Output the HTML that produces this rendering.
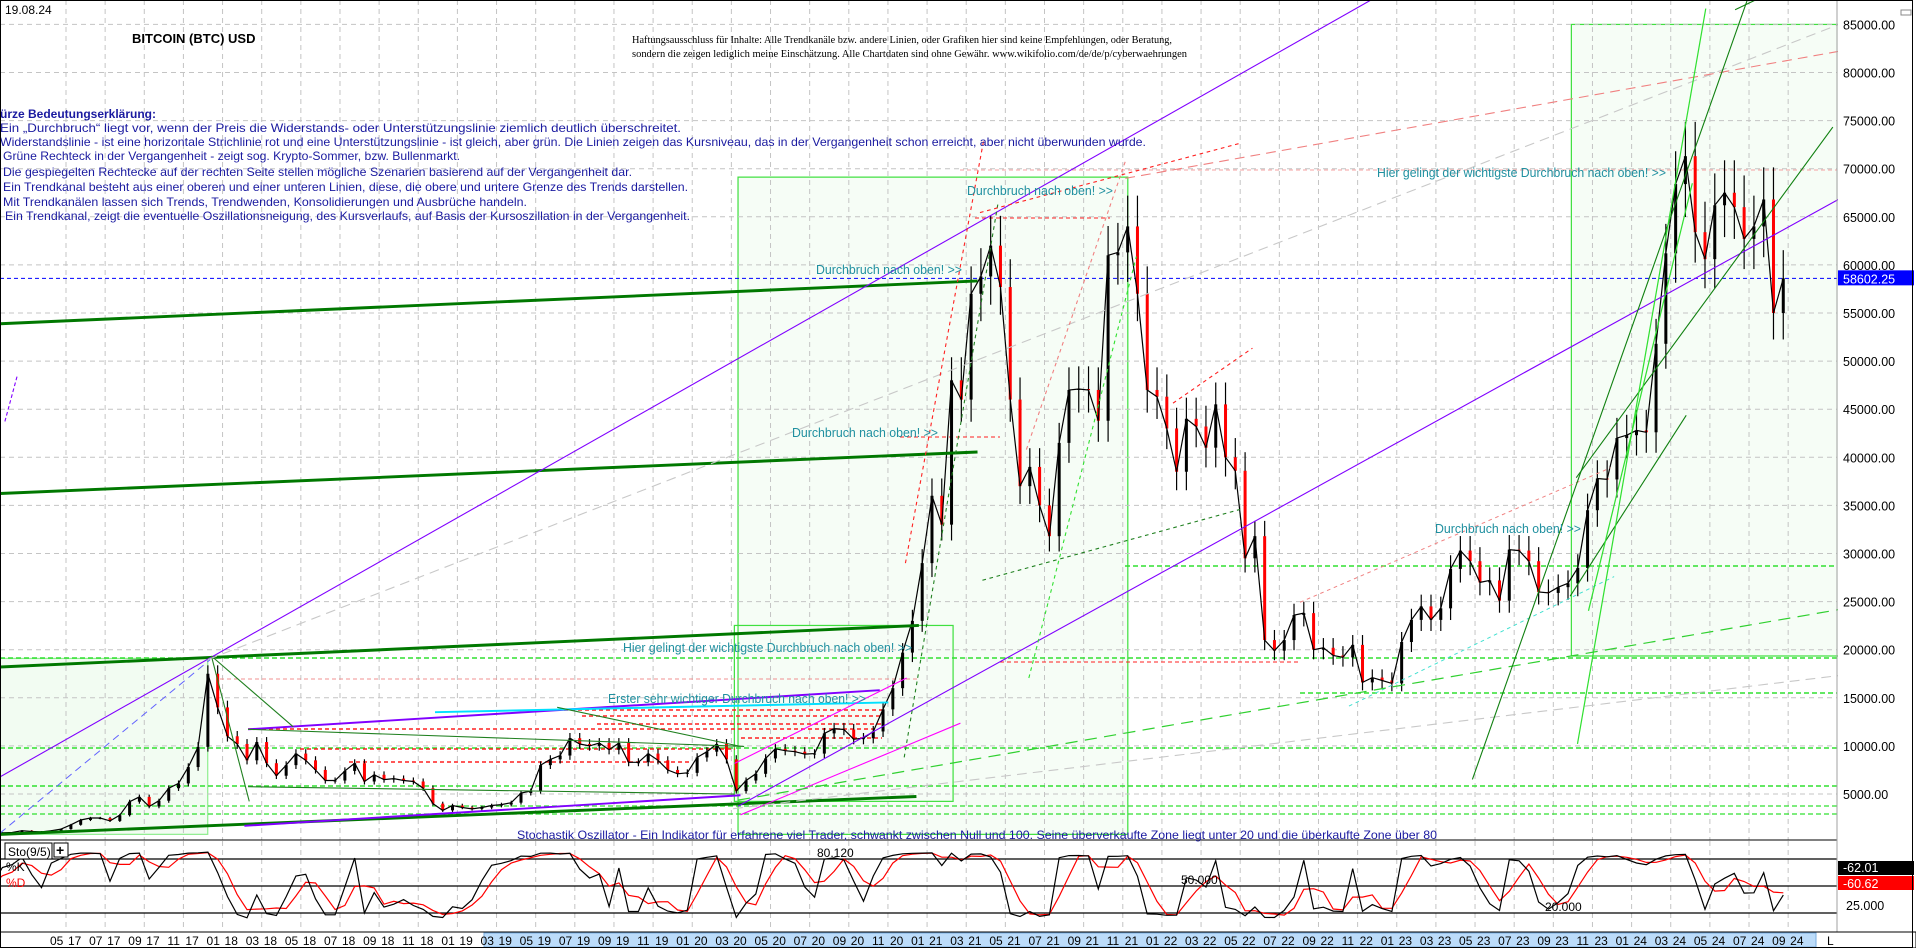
<!DOCTYPE html>
<html><head><meta charset="utf-8"><style>
html,body{margin:0;padding:0;background:#fff;}
svg{display:block;font-family:"Liberation Sans",sans-serif;}
</style></head><body>
<svg id="chart" width="1916" height="948" viewBox="0 0 1916 948" xmlns="http://www.w3.org/2000/svg">
<rect x="0" y="0" width="1916" height="948" fill="#fff"/>
<g id="zones" transform="scale(1.2219,1.2216)" fill="none">
  <rect x="0" y="539" width="170" height="144" fill="#f2fcf2" stroke="#90ee90" stroke-width="1"/>
  <rect x="604" y="145" width="319" height="538" fill="#f6fdf6" stroke="#40e040" stroke-width="1"/>
  <rect x="1286" y="20" width="219" height="517" fill="#f6fdf6" stroke="#40e040" stroke-width="1"/>
</g>
<g id="grid"></g>
<g id="ovp" transform="scale(1.2219,1.2216)" fill="none">
  <rect x="601" y="512" width="179" height="144" stroke="#40e040" stroke-width="1"/>
</g>
<g id="ovf" fill="none"></g>
<g id="candles"></g>
<g id="ovp2" transform="scale(1.2219,1.2216)" fill="none">
  <line x1="0" y1="546" x2="752" y2="512" stroke="#007800" stroke-width="2.4"/>
  <line x1="0" y1="265" x2="800" y2="230" stroke="#007800" stroke-width="2.4"/>
  <line x1="0" y1="404" x2="800" y2="370" stroke="#007800" stroke-width="2.4"/>
  <line x1="0" y1="683" x2="750" y2="652" stroke="#007800" stroke-width="2.4"/>
  <line x1="0" y1="636" x2="1122" y2="0" stroke="#8000ff" stroke-width="0.9"/>
  <line x1="604" y1="660" x2="1505" y2="163" stroke="#8000ff" stroke-width="0.9"/>
  <line x1="200" y1="676" x2="606" y2="651" stroke="#8000ff" stroke-width="1.6"/>
  <line x1="203" y1="597" x2="720" y2="565" stroke="#8000ff" stroke-width="1.6"/>
  <line x1="4" y1="345" x2="14" y2="308" stroke="#8000ff" stroke-width="0.9" stroke-dasharray="3,2"/>
  <line x1="356" y1="583" x2="727" y2="575" stroke="#00e0ff" stroke-width="1.6"/>
  <line x1="601" y1="625" x2="742" y2="555" stroke="#ff00ff" stroke-width="0.9"/>
  <line x1="606" y1="667" x2="786" y2="592" stroke="#ff00ff" stroke-width="0.9"/>
  <line x1="173" y1="537" x2="204" y2="656" stroke="#208020" stroke-width="0.9"/>
  <line x1="203" y1="597" x2="609" y2="611" stroke="#208020" stroke-width="0.9"/>
  <line x1="203" y1="644" x2="601" y2="650" stroke="#208020" stroke-width="0.9"/>
  <line x1="456" y1="579" x2="606" y2="611" stroke="#208020" stroke-width="0.9"/>
  <line x1="173" y1="537" x2="240" y2="595" stroke="#208020" stroke-width="0.9"/>
  <line x1="0" y1="682" x2="172" y2="540" stroke="#6060ff" stroke-width="0.8" stroke-dasharray="6,4"/>
  <line x1="170" y1="540" x2="1505" y2="20" stroke="#c8c8c8" stroke-width="0.9" stroke-dasharray="8,5"/>
  <line x1="600" y1="662" x2="1505" y2="553" stroke="#c8c8c8" stroke-width="0.9" stroke-dasharray="8,5"/>
  <line x1="921" y1="146" x2="1505" y2="42" stroke="#f08080" stroke-width="0.9" stroke-dasharray="8,5"/>
  <line x1="1064" y1="493" x2="1318" y2="383" stroke="#f08080" stroke-width="0.8" stroke-dasharray="3,3"/>
  <line x1="1104" y1="578" x2="1321" y2="472" stroke="#40e0d0" stroke-width="0.8" stroke-dasharray="3,3"/>
  <line x1="604" y1="655" x2="1505" y2="499" stroke="#30d030" stroke-width="1" stroke-dasharray="10,6"/>
  <line x1="741" y1="461" x2="805" y2="115" stroke="#ff2020" stroke-width="0.9" stroke-dasharray="3,3"/>
  <line x1="840" y1="368" x2="921" y2="132" stroke="#f08080" stroke-width="0.9" stroke-dasharray="3,3"/>
  <line x1="842" y1="555" x2="930" y2="210" stroke="#30e030" stroke-width="0.9" stroke-dasharray="3,3"/>
  <line x1="740" y1="620" x2="817" y2="165" stroke="#208020" stroke-width="0.9" stroke-dasharray="3,3"/>
  <line x1="802" y1="174" x2="1016" y2="117" stroke="#ff2020" stroke-width="0.9" stroke-dasharray="3,3"/>
  <line x1="804" y1="475" x2="1015" y2="417" stroke="#208020" stroke-width="0.9" stroke-dasharray="3,3"/>
  <line x1="960" y1="330" x2="1025" y2="285" stroke="#ff2020" stroke-width="0.9" stroke-dasharray="3,3"/>
  <line x1="1205" y1="638" x2="1430" y2="0" stroke="#108010" stroke-width="0.9"/>
  <line x1="1290" y1="391" x2="1500" y2="104" stroke="#108010" stroke-width="0.9"/>
  <line x1="1285" y1="488" x2="1380" y2="340" stroke="#108010" stroke-width="0.9"/>
  <line x1="1291" y1="609" x2="1396" y2="7" stroke="#30e030" stroke-width="1"/>
  <line x1="1300" y1="500" x2="1385" y2="150" stroke="#30e030" stroke-width="1"/>
  <line x1="1420" y1="8" x2="1445" y2="-4" stroke="#108010" stroke-width="0.9"/>
</g>
<g id="texts"></g>
<g id="stoch"></g>
<g id="axes"></g>
</svg>
<script>
// ---- data: semi-monthly closes, Jan 2017 .. Aug 2024 ----
const closes = [
900,970,1000,1190,1100,1070,1180,1350,1800,2300,2500,2500,2200,2800,4200,4700,3700,4300,5600,6100,7800,9900,17500,14000,
11000,10200,8500,10400,8200,6900,8000,9200,8500,7500,6400,6400,7400,8200,6300,7000,6500,6600,6400,6300,5600,4000,3300,3800,
3600,3450,3600,3800,3900,4100,5100,5300,8000,8600,9000,10800,10200,10000,10300,9600,10300,8300,8300,9200,8500,7500,7100,7200,
8800,9400,10200,8600,5300,6400,7100,8700,9700,9500,9400,9150,9200,11300,11800,11700,10700,10800,11500,13800,16000,19700,23000,29000,
36000,33000,48000,46000,57000,58800,62000,57700,46000,37000,39000,35000,31800,41500,47000,47100,47000,43800,61000,61300,64000,57000,47000,46300,
43000,38500,44000,43200,41000,45500,40000,38600,29500,31800,21000,19900,21000,23600,23800,20000,20200,19400,19200,20500,16600,17100,16800,16500,
20800,23100,24500,23100,24300,28400,30300,29200,27000,27200,25100,30400,30300,29200,26000,25900,26500,26900,28500,34500,37800,37700,42000,42300,
42800,42600,51800,61200,68400,71300,63400,60600,66200,67500,66000,62700,64000,66800,55000,58602
];
const priceTicks = [85000,80000,75000,70000,65000,60000,55000,50000,45000,40000,35000,30000,25000,20000,15000,10000,5000];
const monthLabels = ["05 17","07 17","09 17","11 17","01 18","03 18","05 18","07 18","09 18","11 18","01 19","03 19","05 19","07 19","09 19","11 19","01 20","03 20","05 20","07 20","09 20","11 20","01 21","03 21","05 21","07 21","09 21","11 21","01 22","03 22","05 22","07 22","09 22","11 22","01 23","03 23","05 23","07 23","09 23","11 23","01 24","03 24","05 24","07 24","09 24"];
const lastPrice = 58602.25;
const stochLevels = [80,50,20];
const stochK_last = 62.01, stochD_last = 60.62;

const NS="http://www.w3.org/2000/svg";
function mk(tag, attrs, parent){const e=document.createElementNS(NS,tag);for(const k in attrs)e.setAttribute(k,attrs[k]);parent.appendChild(e);return e;}
const yP = p => 794 - (p-5000)*(769.6/80000);
const xM = m => 66 + (m-4)*19.57;
const xT = t => xM(t/2 + 0.25);
const yS = v => 931 - v*0.9;

const grid=document.getElementById('grid');
priceTicks.forEach(p=>{
  const l=mk('line',{x1:0,x2:1837,y1:yP(p),y2:yP(p),stroke:'#c4c4c4','stroke-dasharray':'5,4','stroke-width':1},grid);
  
  
});
monthLabels.forEach((lab,i)=>{
  const x=xM(4+2*i);
  const l=mk('line',{x1:x,x2:x,y1:0,y2:932,stroke:'#c4c4c4','stroke-dasharray':'5,4','stroke-width':1},grid);
  
  
});

const ovf=document.getElementById('ovf');
const levels=[
 [566,1125,1837,'#30e030','5,3',1.5],[658,0,1837,'#30e030','5,3',1.5],[693,1300,1837,'#30e030','5,3',1.5],
 [748,0,1837,'#30e030','5,3',1.5],[786,0,1837,'#30e030','5,3',1.5],[806,0,1837,'#30e030','5,3',1.3],[814,0,1837,'#30e030','5,3',1.3],
 [679,220,918,'#f09090','4,3',1],[729,248,876,'#ff2020','4,3',1.5],[749,300,735,'#ff2020','4,3',1.5],[762,349,692,'#ff2020','4,3',1.5],
 [710,557,882,'#ff2020','4,3',1.5],[716,582,882,'#ff2020','4,3',1.5],[724,597,882,'#ff2020','4,3',1.5],[738,741,882,'#ff2020','4,3',1.5],
 [662,1000,1300,'#ff2020','4,3',1],[170,960,1837,'#f4a0a0','4,3',1],[218,975,1110,'#ff2020','4,3',1],[437,900,1000,'#ff2020','4,3',1]
];
levels.forEach(a=>{
  const l=mk('line',{x1:a[1],x2:a[2],y1:a[0],y2:a[0],stroke:a[3],'stroke-dasharray':a[4],'stroke-width':a[5]},ovf);
  
  
});
const cur=mk('line',{x1:0,x2:1837,y1:yP(lastPrice),y2:yP(lastPrice),stroke:'#0000ff','stroke-dasharray':'4,3','stroke-width':1},ovf);



const cg=document.getElementById('candles');
let pts=[];
closes.forEach((c,i)=>{
  const o = i>0?closes[i-1]:c*0.95;
  const hi=Math.max(o,c)*1.05, lo=Math.min(o,c)*0.95;
  const x=xT(i);
  const w=mk('line',{x1:x,x2:x,y1:yP(hi),y2:yP(lo),stroke:'#000','stroke-width':1.2},cg);
  
  
  const b=mk('rect',{x:x-1.5,y:yP(Math.max(o,c)),width:3,height:Math.max(1,Math.abs(yP(o)-yP(c))),fill:(c<o)?'#ff0000':'#000'},cg);
  
  
  pts.push(x.toFixed(1)+','+yP(c).toFixed(1));
});
const pl=mk('polyline',{points:pts.join(' '),fill:'none',stroke:'#000','stroke-width':1.2},cg);



const tg=document.getElementById('texts');
function txt(s,x,y,attrs,name){const t=mk('text',Object.assign({x:x,y:y},attrs),tg);t.textContent=s;return t;}
txt('19.08.24',5,14,{'font-size':12,fill:'#000'},'date-label');
txt('BITCOIN (BTC) USD',132,43,{'font-size':13,'font-weight':'bold',fill:'#000'},'chart-title');
txt('Haftungsausschluss für Inhalte: Alle Trendkanäle bzw. andere Linien, oder Grafiken hier sind keine Empfehlungen, oder Beratung,',632,43,{'font-size':11,'font-family':'Liberation Serif, serif',fill:'#000',textLength:540,lengthAdjust:'spacingAndGlyphs'},'disclaimer-line-1');
txt('sondern die zeigen lediglich meine  Einschätzung. Alle Chartdaten sind ohne Gewähr.  www.wikifolio.com/de/de/p/cyberwaehrungen',632,57,{'font-size':11,'font-family':'Liberation Serif, serif',fill:'#000',textLength:555,lengthAdjust:'spacingAndGlyphs'},'disclaimer-line-2');
const legend=[
 ['ürze Bedeutungserklärung:',0,118,156,true],
 ['Ein „Durchbruch“ liegt vor, wenn der Preis die Widerstands- oder Unterstützungslinie ziemlich deutlich überschreitet.',0,132,681,false],
 ['Widerstandslinie - ist eine horizontale Strichlinie rot und eine Unterstützungslinie - ist gleich, aber grün. Die Linien zeigen das Kursniveau, das in der Vergangenheit schon erreicht, aber nicht überwunden wurde.',0,146,1146,false],
 ['Grüne Rechteck in der Vergangenheit - zeigt sog. Krypto-Sommer, bzw. Bullenmarkt.',3,160,457,false],
 ['Die gespiegelten Rechtecke auf der rechten Seite stellen mögliche Szenarien basierend auf der Vergangenheit dar.',3,176,629,false],
 ['Ein Trendkanal besteht aus einer oberen und einer unteren Linien, diese, die obere und untere Grenze des Trends darstellen.',3,191,685,false],
 ['Mit Trendkanälen lassen sich Trends, Trendwenden, Konsolidierungen und Ausbrüche handeln.',3,206,524,false],
 ['Ein Trendkanal, zeigt die eventuelle Oszillationsneigung, des Kursverlaufs, auf Basis der Kursoszillation in der Vergangenheit.',5,220,685,false]
];
legend.forEach((l,i)=>{txt(l[0],l[1],l[2],{'font-size':12,fill:'#1a1aa0','font-weight':l[4]?'bold':'normal',textLength:l[3],lengthAdjust:'spacingAndGlyphs'},'legend-line-'+i);});
const ann=[
 ['Durchbruch nach oben! >>',967,195,146],['Durchbruch nach oben! >>',816,274,146],['Durchbruch nach oben! >>',792,437,146],
 ['Durchbruch nach oben! >>',1435,533,146],['Hier gelingt der wichtigste Durchbruch nach oben! >>',1377,177,289],
 ['Hier gelingt der wichtigste Durchbruch nach oben! >>',623,652,289],['Erster sehr wichtiger Durchbruch nach oben! >>',608,703,258]
];
ann.forEach(a=>{txt(a[0],a[1],a[2],{'font-size':12.5,fill:'#2090a0',textLength:a[3],lengthAdjust:'spacingAndGlyphs'},'breakout-annotation');});

const sg=document.getElementById('stoch');
const bg=mk('rect',{x:0,y:840,width:1837,height:92,fill:'#fff',stroke:'#000','stroke-width':1},sg);


monthLabels.forEach((lab,i)=>{const x=xM(4+2*i);const l=mk('line',{x1:x,x2:x,y1:841,y2:931,stroke:'#c4c4c4','stroke-dasharray':'5,4'},sg);});
stochLevels.forEach(v=>{
  const l=mk('line',{x1:0,x2:1837,y1:yS(v),y2:yS(v),stroke:'#000','stroke-width':1.3},sg);
  
  
});
const K=[],D=[];
closes.forEach((c,i)=>{const w=closes.slice(Math.max(0,i-4),i+1);const mn=Math.min(...w)*0.96,mx=Math.max(...w)*1.04;K.push(12+80*(c-mn)/(mx-mn));});
K.forEach((k,i)=>{const w=K.slice(Math.max(0,i-2),i+1);D.push(w.reduce((a,b)=>a+b,0)/w.length);});
const kp=K.map((v,i)=>xT(i).toFixed(1)+','+yS(v).toFixed(1)).join(' ');
const dp=D.map((v,i)=>xT(i).toFixed(1)+','+yS(v).toFixed(1)).join(' ');
const dl=mk('polyline',{points:dp,fill:'none',stroke:'#ff0000','stroke-width':1.2},sg);


const kl=mk('polyline',{points:kp,fill:'none',stroke:'#000','stroke-width':1.2},sg);


function st(s,x,y,attrs,name){const t=mk('text',Object.assign({x:x,y:y},attrs),sg);t.textContent=s;return t;}
st('Stochastik Oszillator - Ein Indikator für erfahrene viel Trader, schwankt zwischen Null und 100. Seine überverkaufte Zone liegt unter 20 und die überkaufte Zone über 80',517,839,{'font-size':12,fill:'#1a1aa0',textLength:920,lengthAdjust:'spacingAndGlyphs'},'stochastic-note');
const sb=mk('rect',{x:5,y:843,width:47,height:16,fill:'#fff',stroke:'#000'},sg);


st('Sto(9/5)',8,856,{'font-size':12,fill:'#000'},'stoch-title');
const pb=mk('rect',{x:54,y:843,width:14,height:14,fill:'#fff',stroke:'#000'},sg);


st('+',56,855,{'font-size':14,'font-weight':'bold',fill:'#000'},'plus-icon');
st('%K',6,871,{'font-size':12,fill:'#000'},'k-legend');
st('%D',6,887,{'font-size':12,fill:'#ff0000'},'d-legend');
st('80.120',817,857,{'font-size':12,fill:'#000'},'stoch-label-80');
st('50.000',1181,884,{'font-size':12,fill:'#000'},'stoch-label-50');
st('20.000',1545,911,{'font-size':12,fill:'#000'},'stoch-label-20');

const ag=document.getElementById('axes');
function at(s,x,y,attrs,name){const t=mk('text',Object.assign({x:x,y:y},attrs),ag);t.textContent=s;return t;}
const rbg=mk('rect',{x:1838,y:0,width:78,height:948,fill:'#fff'},ag);


const ax=mk('line',{x1:1837,x2:1837,y1:0,y2:948,stroke:'#a0a0a0','stroke-width':1},ag);


priceTicks.forEach(p=>{at(p.toFixed(2),1843,yP(p)+5,{'font-size':12.5,fill:'#000'},'y-tick-label');});
const lb=mk('rect',{x:1838,y:yP(lastPrice)-8,width:76,height:15,fill:'#0000ff'},ag);


at(lastPrice.toFixed(2),1843,yP(lastPrice)+5,{'font-size':12.5,fill:'#fff'},'last-price-label');
const kb=mk('rect',{x:1838,y:861,width:76,height:14,fill:'#000'},ag);


at('-'+stochK_last.toFixed(2),1843,872,{'font-size':12.5,fill:'#fff'},'k-value');
const db=mk('rect',{x:1838,y:876,width:76,height:14,fill:'#ff0000'},ag);


at('-'+stochD_last.toFixed(2),1843,888,{'font-size':12.5,fill:'#fff'},'d-value');
at('25.000',1846,910,{'font-size':12.5,fill:'#000'},'stoch-axis-label');
const xb=mk('rect',{x:0,y:932,width:1916,height:16,fill:'#fff',stroke:'#000'},ag);


const hb=mk('rect',{x:484,y:933,width:1332,height:14,fill:'#bcdcfa',stroke:'#7aaee0'},ag);


monthLabels.forEach((lab,i)=>{
  const x=xM(4+2*i);
  at(lab.slice(0,2),x-16,945,{'font-size':12,fill:'#000'},'x-tick-month');
  at(lab.slice(3),x+2,945,{'font-size':12,fill:'#000'},'x-tick-year');
});
at('L',1827,945,{'font-size':12,fill:'#000'},'x-axis-end');
const fr=mk('rect',{x:0.5,y:0.5,width:1912,height:947,fill:'none',stroke:'#000','stroke-width':1},ag);


const sm=mk('rect',{x:1901,y:10,width:10,height:5,fill:'none',stroke:'#888'},ag);


</script>
</body></html>
